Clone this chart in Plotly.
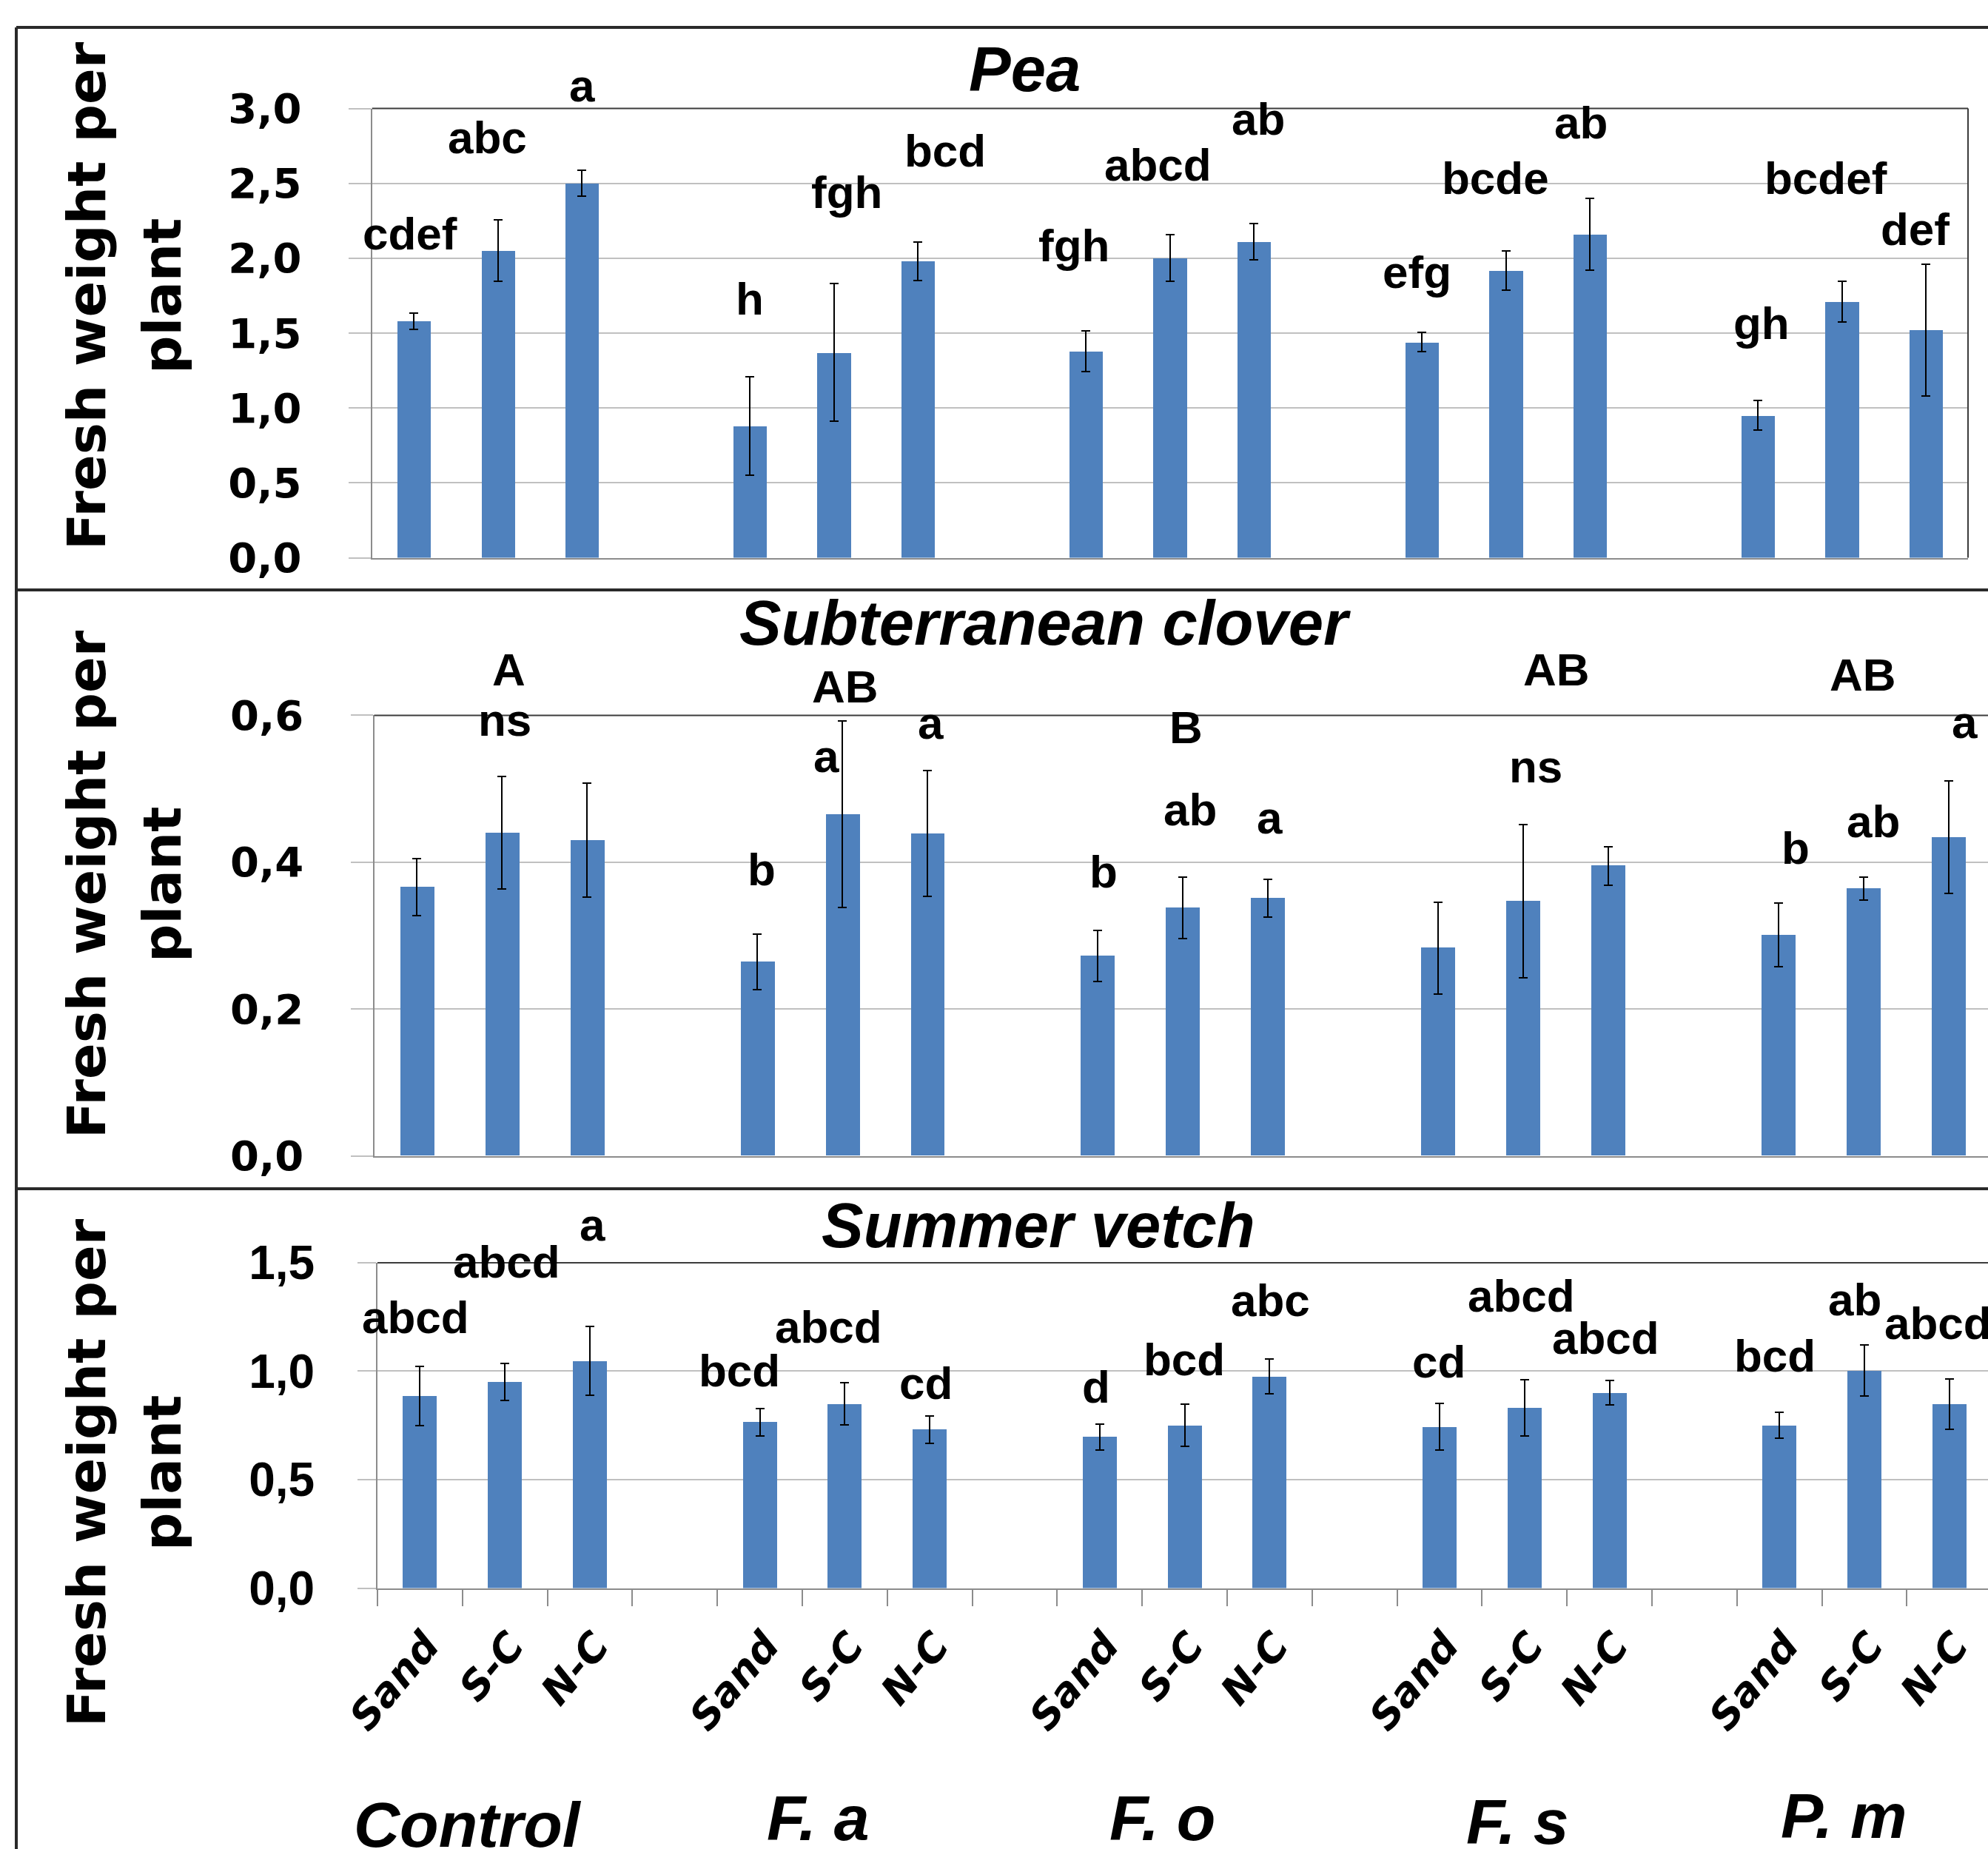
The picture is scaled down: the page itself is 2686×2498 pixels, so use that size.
import plotly.graph_objects as go

W, H = 2686, 2498

# ---------------- data ----------------
groups = ["Control", "F. a", "F. o", "F. s", "P. m"]
treatments = ["Sand", "S-C", "N-C"]

pea_mean = [1.58, 2.05, 2.50, 0.88, 1.37, 1.98, 1.38, 2.00, 2.11, 1.44, 1.92, 2.16, 0.95, 1.71, 1.52]
pea_err = [0.055, 0.205, 0.085, 0.33, 0.46, 0.13, 0.137, 0.155, 0.12, 0.063, 0.131, 0.24, 0.098, 0.136, 0.44]

clover_mean = [0.366, 0.440, 0.430, 0.264, 0.465, 0.439, 0.272, 0.338, 0.351, 0.283, 0.347, 0.395, 0.301, 0.364, 0.434]
clover_err = [0.039, 0.077, 0.078, 0.038, 0.127, 0.086, 0.035, 0.042, 0.026, 0.0625, 0.1045, 0.026, 0.0435, 0.016, 0.0765]

vetch_mean = [0.885, 0.951, 1.047, 0.765, 0.849, 0.731, 0.697, 0.751, 0.975, 0.743, 0.831, 0.901, 0.751, 1.003, 0.847]
vetch_err = [0.137, 0.086, 0.159, 0.064, 0.097, 0.064, 0.06, 0.097, 0.08, 0.107, 0.128, 0.056, 0.06, 0.117, 0.116]

# significance letters (text, x in category units, mid-height y in data units)
pea_letters = ["cdef", "abc", "a", "h", "fgh", "bcd", "fgh", "abcd", "ab", "efg", "bcde", "ab", "gh", "bcdef", "def"]
pea_lx = [-0.05, 0.87, 2.0, 4.0, 5.15, 6.32, 7.86, 8.86, 10.05, 11.94, 12.87, 13.89, 16.04, 16.81, 17.87]
pea_ly = [2.166, 2.808, 3.154, 1.731, 2.442, 2.717, 2.086, 2.625, 2.932, 1.908, 2.536, 2.907, 1.567, 2.536, 2.195]

clover_letters = ["A", "ns", "AB", "b", "a", "a", "B", "b", "ab", "a", "AB", "ns", "AB", "b", "ab", "a"]
clover_lx = [1.083, 1.035, 5.035, 4.052, 4.817, 6.04, 9.035, 8.073, 9.084, 10.02, 13.39, 13.148, 16.99, 16.204, 17.11, 18.19]
clover_ly = [0.662, 0.594, 0.6395, 0.3897, 0.5442, 0.5896, 0.584, 0.387, 0.4723, 0.4605, 0.6627, 0.5301, 0.6549, 0.4199, 0.4562, 0.5911]

vetch_letters = ["abcd", "abcd", "a", "bcd", "abcd", "cd", "d", "bcd", "abc", "cd", "abcd", "abcd", "bcd", "ab", "abcd"]
vetch_lx = [-0.05, 1.023, 2.03, 3.76, 4.81, 5.955, 7.961, 8.992, 10.009, 11.989, 12.967, 13.957, 15.95, 16.887, 17.871]
vetch_ly = [1.249, 1.504, 1.674, 1.005, 1.205, 0.945, 0.929, 1.055, 1.3285, 1.045, 1.3486, 1.155, 1.071, 1.330, 1.222]

pea_ticks = [0.0, 0.5, 1.0, 1.5, 2.0, 2.5, 3.0]
pea_ticktext = ["0,0", "0,5", "1,0", "1,5", "2,0", "2,5", "3,0"]
clover_ticks = [0.0, 0.2, 0.4, 0.6]
clover_ticktext = ["0,0", "0,2", "0,4", "0,6"]
vetch_ticks = [0.0, 0.5, 1.0, 1.5]
vetch_ticktext = ["0,0", "0,5", "1,0", "1,5"]

panel_titles = ["Pea", "Subterranean clover", "Summer vetch"]
ytitle_lines = ["Fresh weight per", "plant"]

# category positions: each group has 3 bars followed by an empty gap slot
positions = [g * 4 + t for g in range(len(groups)) for t in range(len(treatments))]
xlabels = [t for g in groups for t in treatments]

# ---------------- style ----------------
BAR = "#4F81BD"
GRID = "#C0C0C0"
AXIS = "#8C8C8C"
FRAME = "#3C3C3C"
LET_FONT = dict(family="Liberation Sans, Arial", size=62, color="black", weight="bold")


def px_x(p):
    return p / W


def px_y(p):
    return 1 - p / H


# axis layout (domains in paper units, ranges in data units)
pea_ydom = [px_y(753.5), px_y(146.5)]
clover_ydom = [px_y(1561.5), px_y(966.4)]
vetch_ydom = [px_y(2145.6), px_y(1705.9)]
pea_yrng = [0, 3]
clover_yrng = [0, 0.6]
vetch_yrng = [0, 1.5]


def y_to_paper(v, dom, rng):
    # place text on the same vertical scale as the axis (labels may sit above the plot)
    return dom[0] + (v - rng[0]) / (rng[1] - rng[0]) * (dom[1] - dom[0])


fig = go.Figure()

panels = [
    ("x", "y", pea_mean, pea_err),
    ("x2", "y2", clover_mean, clover_err),
    ("x3", "y3", vetch_mean, vetch_err),
]
for xa, ya, m, e in panels:
    fig.add_trace(go.Bar(
        x=positions, y=m, width=0.4, xaxis=xa, yaxis=ya,
        marker=dict(color=BAR, line=dict(width=0)),
        error_y=dict(type="data", array=e, color="black", thickness=2, width=6),
        showlegend=False, hoverinfo="skip",
    ))

ytick_font_dv = dict(family="DejaVu Sans", size=56, color="black", weight="bold")
ytick_font_ar = dict(family="Liberation Sans, Arial", size=64, color="black", weight="bold")

common_y = dict(showgrid=True, gridcolor=GRID, gridwidth=2, zeroline=False,
                showline=True, linecolor=AXIS, linewidth=2, automargin=False,
                ticks="outside", tickcolor=GRID, tickwidth=2, tickmode="array")
common_x = dict(showgrid=False, zeroline=False, showline=True, linecolor=AXIS,
                linewidth=2, automargin=False)

fig.update_layout(
    width=W, height=H, autosize=False,
    margin=dict(l=0, r=0, t=0, b=0, pad=0, autoexpand=False),
    paper_bgcolor="white", plot_bgcolor="white",
    bargap=0,
    xaxis=dict(domain=[px_x(502.7), px_x(2659)], range=[-0.5, 18.5], anchor="y",
               showticklabels=False, ticks="", **common_x),
    yaxis=dict(domain=pea_ydom, range=pea_yrng, anchor="x",
               tickvals=pea_ticks, ticktext=pea_ticktext, ticklen=30,
               tickfont=ytick_font_dv, ticklabelstandoff=52, **common_y),
    xaxis2=dict(domain=[px_x(505.5), 1.0], range=[-0.5, 18.461], anchor="y2",
                showticklabels=False, ticks="", **common_x),
    yaxis2=dict(domain=clover_ydom, range=clover_yrng, anchor="x2",
                tickvals=clover_ticks, ticktext=clover_ticktext, ticklen=30,
                tickfont=ytick_font_dv, ticklabelstandoff=52, **common_y),
    xaxis3=dict(domain=[px_x(510), 1.0], range=[-0.5, 18.455], anchor="y3",
                tickmode="array", tickvals=positions, ticktext=xlabels, ticks="",
                tickangle=-50,
                tickfont=dict(family="DejaVu Sans", size=54, color="black",
                              weight="bold", style="italic"),
                ticklabelstandoff=22, ticklabelshift=8,
                minor=dict(tickmode="linear", tick0=-0.5, dtick=1, ticks="outside",
                           ticklen=22, tickcolor=AXIS, tickwidth=2, showgrid=False),
                **common_x),
    yaxis3=dict(domain=vetch_ydom, range=vetch_yrng, anchor="x3",
                tickvals=vetch_ticks, ticktext=vetch_ticktext, ticklen=25,
                tickfont=ytick_font_ar, ticklabelstandoff=45, **common_y),
)

shapes = []
# plot-area top (and right for pea) borders
shapes.append(dict(type="line", xref="x domain", yref="y domain", x0=0, x1=1, y0=1, y1=1,
                   line=dict(color=FRAME, width=2), layer="above"))
shapes.append(dict(type="line", xref="x domain", yref="y domain", x0=1, x1=1, y0=0, y1=1,
                   line=dict(color=FRAME, width=2), layer="above"))
shapes.append(dict(type="line", xref="x2 domain", yref="y2 domain", x0=0, x1=1, y0=1, y1=1,
                   line=dict(color=FRAME, width=2), layer="above"))
shapes.append(dict(type="line", xref="x3 domain", yref="y3 domain", x0=0, x1=1, y0=1, y1=1,
                   line=dict(color=FRAME, width=2), layer="above"))
# outer panel frame and separators
for yy in [37, 797, 1606]:
    shapes.append(dict(type="line", xref="paper", yref="paper",
                       x0=px_x(22), x1=1.0, y0=px_y(yy), y1=px_y(yy),
                       line=dict(color="#2A2A2A", width=4)))
shapes.append(dict(type="line", xref="paper", yref="paper",
                   x0=px_x(22), x1=px_x(22), y0=px_y(37), y1=0,
                   line=dict(color="#2A2A2A", width=4)))
fig.update_layout(shapes=shapes)

ann = []

# significance letters
for texts, xs, ys, xref, dom, rng in [
    (pea_letters, pea_lx, pea_ly, "x", pea_ydom, pea_yrng),
    (clover_letters, clover_lx, clover_ly, "x2", clover_ydom, clover_yrng),
    (vetch_letters, vetch_lx, vetch_ly, "x3", vetch_ydom, vetch_yrng),
]:
    for t, xv, yv in zip(texts, xs, ys):
        ann.append(dict(text=t, x=xv, y=y_to_paper(yv, dom, rng), xref=xref, yref="paper",
                        showarrow=False, xanchor="center", yanchor="middle",
                        borderpad=0, borderwidth=0, font=LET_FONT))

# panel titles
title_cx = [1384, 1412, 1403]
title_base = [123, 871, 1685]
TFS = 85
for t, cx, b in zip(panel_titles, title_cx, title_base):
    ann.append(dict(text=t, x=px_x(cx), y=px_y(b + 0.21 * TFS + 2), xref="paper", yref="paper",
                    showarrow=False, xanchor="center", yanchor="bottom",
                    font=dict(family="Liberation Sans, Arial", size=TFS, color="black",
                              weight="bold", style="italic")))

# y-axis titles (two rotated lines per panel)
ytitle_cx = [117, 219]
ytitle_cy = [400, 1195, 1990]
for cy in ytitle_cy:
    for line, cx in zip(ytitle_lines, ytitle_cx):
        ann.append(dict(text=line, x=px_x(cx), y=px_y(cy), xref="paper", yref="paper",
                        showarrow=False, xanchor="center", yanchor="middle", textangle=-90,
                        font=dict(family="DejaVu Sans", size=72, color="black", weight="bold")))

# group labels below the bottom panel
group_lx = [0.563, 4.683, 8.742, 12.915, 16.765]
group_base = [2495, 2486, 2486, 2491, 2483]
GFS = 86
for g, xv, b in zip(groups, group_lx, group_base):
    ann.append(dict(text=g, x=xv, y=px_y(b + 0.21 * GFS + 2), xref="x3", yref="paper",
                    showarrow=False, xanchor="center", yanchor="bottom",
                    font=dict(family="Liberation Sans, Arial", size=GFS, color="black",
                              weight="bold", style="italic")))

fig.update_layout(annotations=ann)

fig.write_html("out.html",
               config={"displayModeBar": False},
               post_script="document.body.style.margin='0px';document.body.style.overflow='hidden';")
